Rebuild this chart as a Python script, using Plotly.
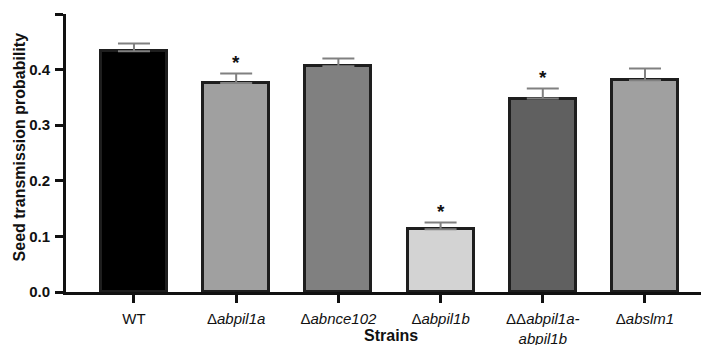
import plotly.graph_objects as go

strains = ["WT", "Δ<i>abpil1a</i>", "Δ<i>abnce102</i>", "Δ<i>abpil1b</i>",
           "ΔΔ<i>abpil1a-</i><br><i>abpil1b</i>", "Δ<i>abslm1</i>"]
values = [0.433, 0.376, 0.406, 0.113, 0.348, 0.381]
errors = [0.014, 0.017, 0.014, 0.012, 0.018, 0.021]
significant = [False, True, False, True, True, False]
bar_colors = ["#000000", "#a0a0a0", "#808080", "#d3d3d3", "#606060", "#a0a0a0"]
y_ticks = [0.0, 0.1, 0.2, 0.3, 0.4, 0.5]

x = list(range(len(strains)))
FONT = "Liberation Sans, Arial, Helvetica, sans-serif"

fig = go.Figure()
fig.add_trace(go.Bar(
    x=x, y=values, width=0.645,
    marker=dict(color=bar_colors, line=dict(color="#1e1e1e", width=3)),
    error_y=dict(type="data", array=errors, arrayminus=[0] * len(errors),
                 symmetric=False, color="#808080", thickness=2, width=16),
    showlegend=False,
))

for i, s in enumerate(significant):
    if s:
        fig.add_annotation(x=i, y=values[i] + errors[i] + 0.026, text="<b>*</b>",
                           showarrow=False, yanchor="middle", yshift=-3,
                           font=dict(size=19, color="#111", family=FONT))

fig.add_annotation(x=0.5, y=0, xref="paper", yref="paper", yshift=-43,
                   text="<b>Strains</b>", showarrow=False, yanchor="middle",
                   borderpad=0,
                   font=dict(size=16, color="#111", family=FONT))
fig.add_annotation(x=0, y=0.52, xref="paper", yref="paper", xshift=-47,
                   text="<b>Seed transmission probability</b>", textangle=-90,
                   showarrow=False, xanchor="center", yanchor="middle",
                   font=dict(size=16, color="#111", family=FONT))

fig.update_layout(
    width=709, height=345,
    margin=dict(l=58, r=2, t=6, b=61),
    plot_bgcolor="white", paper_bgcolor="white",
    font=dict(family=FONT, color="#111"),
    bargap=0,
)
fig.update_xaxes(
    range=[-0.665, 5.685], tickmode="array", tickvals=x, ticktext=strains,
    showline=True, linecolor="#111", linewidth=3,
    ticks="outside", ticklen=8, tickwidth=3, tickcolor="#111",
    tickfont=dict(size=15), showgrid=False, zeroline=False,
    automargin=False, ticklabelstandoff=3,
)
fig.update_yaxes(
    range=[0, 0.5], tickmode="array", tickvals=y_ticks,
    ticktext=[f"<b>{v:.1f}</b>" for v in y_ticks],
    showline=True, linecolor="#111", linewidth=3,
    ticks="outside", ticklen=8, tickwidth=3, tickcolor="#111",
    tickfont=dict(size=15), showgrid=False, zeroline=False,
    automargin=False, ticklabelstandoff=2,
)

fig.write_html("out.html")
